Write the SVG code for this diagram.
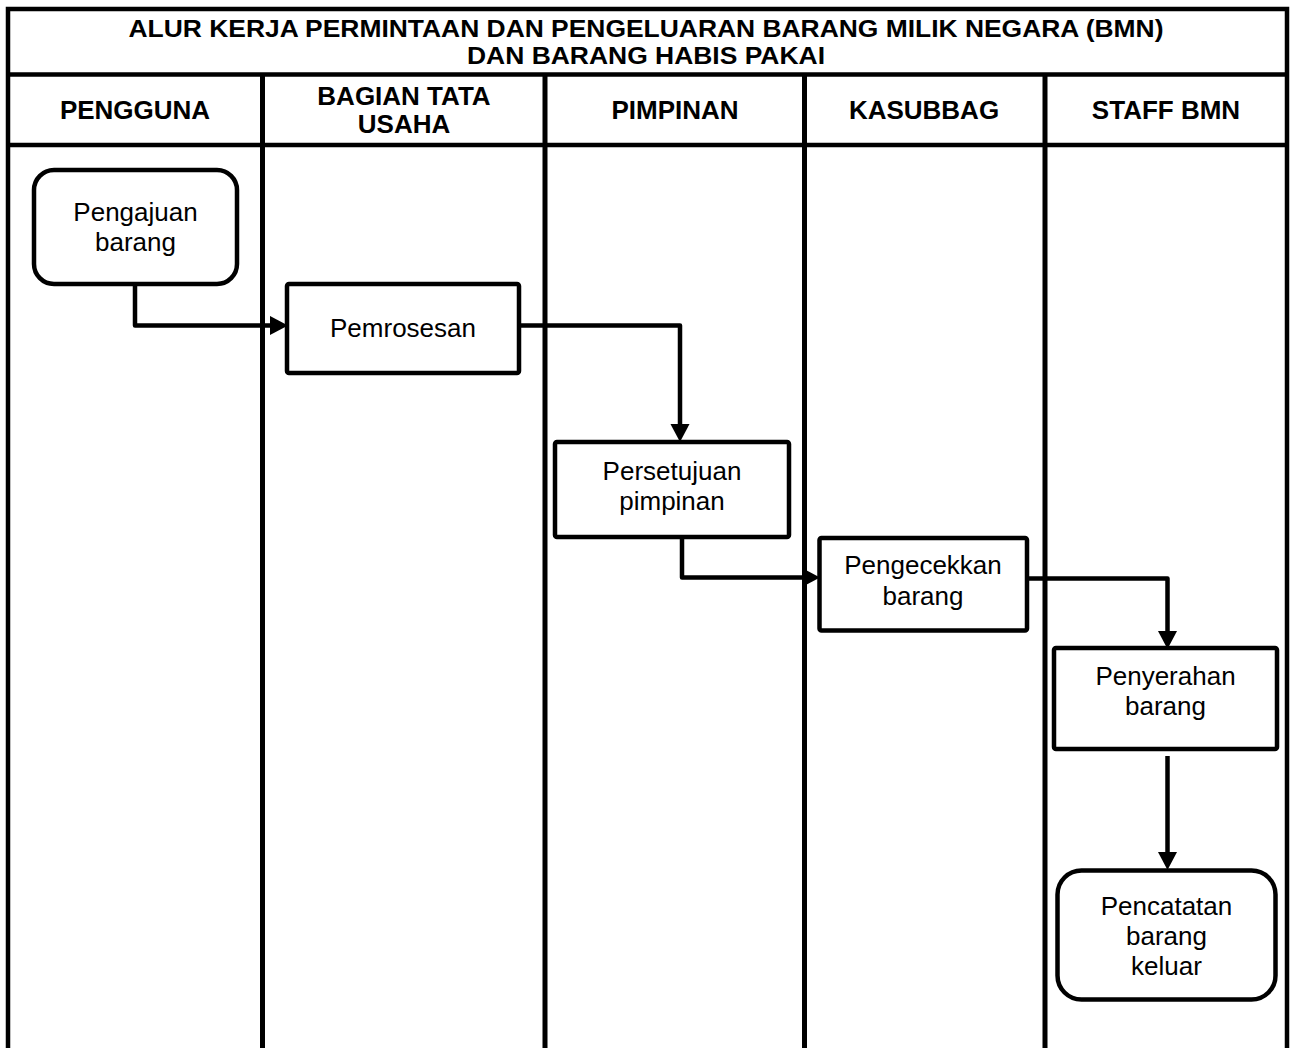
<svg xmlns="http://www.w3.org/2000/svg" width="1290" height="1048" viewBox="0 0 1290 1048">
<style>
.frame{fill:none;stroke:#000;stroke-width:4.5}
.lane{fill:none;stroke:#000;stroke-width:5}
.box{fill:#fff;stroke:#000;stroke-width:4.5}
.conn{fill:none;stroke:#000;stroke-width:4.5;stroke-linejoin:round}
.t{font-family:"Liberation Sans",Arial,sans-serif;font-size:26px;fill:#000;text-anchor:middle}
.h{font-family:"Liberation Sans",Arial,sans-serif;font-size:26px;font-weight:bold;fill:#000;text-anchor:middle}
.ttl{font-family:"Liberation Sans",Arial,sans-serif;font-size:24px;font-weight:bold;fill:#000;text-anchor:middle}
</style>
<defs>
<marker id="arr" markerUnits="userSpaceOnUse" markerWidth="18" markerHeight="20" refX="0" refY="9" orient="auto" viewBox="0 0 17 18">
<path d="M0,0 L17,9 L0,18 Z" fill="#000"/>
</marker>
</defs>
<rect width="1290" height="1048" fill="#fff"/>
<g id="frame">
<path class="frame" d="M8,1048 V9 H1287 V1048"/>
<line class="frame" x1="8" y1="74.5" x2="1287" y2="74.5"/>
<line class="frame" x1="8" y1="145" x2="1287" y2="145"/>
<line class="lane" x1="262.5" y1="74" x2="262.5" y2="1048"/>
<line class="lane" x1="545" y1="74" x2="545" y2="1048"/>
<line class="lane" x1="804.5" y1="74" x2="804.5" y2="1048"/>
<line class="lane" x1="1045" y1="74" x2="1045" y2="1048"/>
</g>
<g id="title">
<text class="ttl" x="646" y="37" textLength="1035" lengthAdjust="spacingAndGlyphs">ALUR KERJA PERMINTAAN DAN PENGELUARAN BARANG MILIK NEGARA (BMN)</text>
<text class="ttl" x="646" y="64" textLength="358" lengthAdjust="spacingAndGlyphs">DAN BARANG HABIS PAKAI</text>
</g>
<g id="headers">
<text class="h" x="135" y="119">PENGGUNA</text>
<text class="h" x="404" y="105">BAGIAN TATA</text>
<text class="h" x="404" y="133">USAHA</text>
<text class="h" x="675" y="119">PIMPINAN</text>
<text class="h" x="924" y="119">KASUBBAG</text>
<text class="h" x="1166" y="119">STAFF BMN</text>
</g>
<g id="connectors">
<path class="conn" d="M135,284 V325.5 H270" marker-end="url(#arr)"/>
<path class="conn" d="M519,325.5 H680 V424" marker-end="url(#arr)"/>
<path class="conn" d="M682,537 V577.5 H802" marker-end="url(#arr)"/>
<path class="conn" d="M1027,578.5 H1167.5 V631" marker-end="url(#arr)"/>
<path class="conn" d="M1167.5,756 V852" marker-end="url(#arr)"/>
</g>
<g id="n1">
<rect class="box" x="34" y="170" width="203" height="114" rx="20"/>
<text class="t" x="135.5" y="221">Pengajuan</text>
<text class="t" x="135.5" y="251">barang</text>
</g>
<g id="n2">
<rect class="box" x="287" y="284" width="232" height="89" rx="2"/>
<text class="t" x="403" y="337">Pemrosesan</text>
</g>
<g id="n3">
<rect class="box" x="555" y="442" width="234" height="95" rx="2"/>
<text class="t" x="672" y="480">Persetujuan</text>
<text class="t" x="672" y="510">pimpinan</text>
</g>
<g id="n4">
<rect class="box" x="819.5" y="538" width="207.5" height="92.5" rx="2"/>
<text class="t" x="923" y="574">Pengecekkan</text>
<text class="t" x="923" y="605">barang</text>
</g>
<g id="n5">
<rect class="box" x="1054" y="648" width="223" height="101" rx="2"/>
<text class="t" x="1165.5" y="685">Penyerahan</text>
<text class="t" x="1165.5" y="715">barang</text>
</g>
<g id="n6">
<rect class="box" x="1057.5" y="870.5" width="218" height="129" rx="24"/>
<text class="t" x="1166.5" y="915">Pencatatan</text>
<text class="t" x="1166.5" y="945">barang</text>
<text class="t" x="1166.5" y="975">keluar</text>
</g>
</svg>
